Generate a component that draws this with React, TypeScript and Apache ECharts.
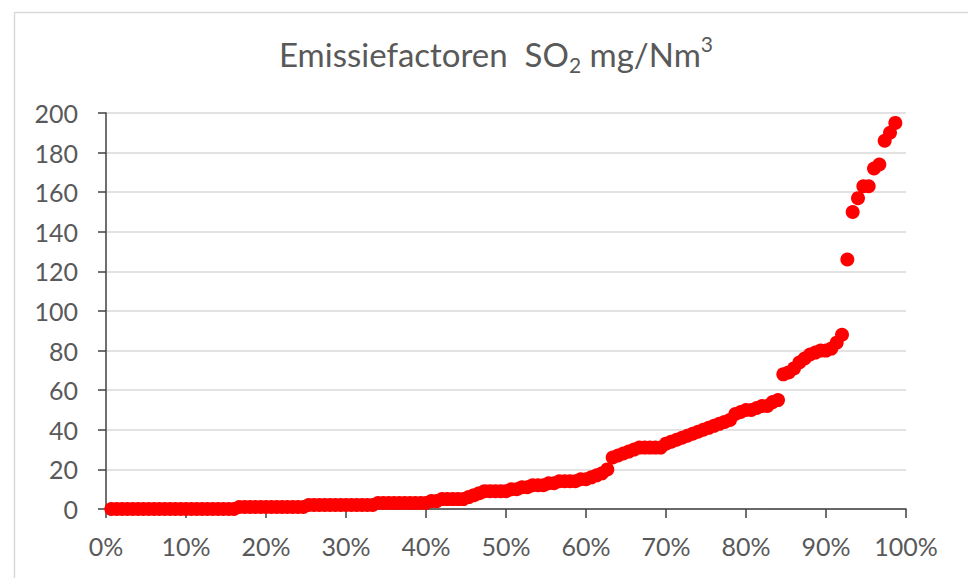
import React, { useEffect, useRef } from "react";
import * as echarts from "echarts";

// Sorted SO2 emission factors (mg/Nm3), one per installation
const so2Values: number[] = [
  0, 0, 0, 0, 0, 0, 0, 0, 0, 0, 0, 0, 0, 0, 0, 0, 0, 0, 0, 0, 0, 0, 0, 0,
  1, 1, 1, 1, 1, 1, 1, 1, 1, 1, 1, 1, 1,
  2, 2, 2, 2, 2, 2, 2, 2, 2, 2, 2, 2, 2,
  3, 3, 3, 3, 3, 3, 3, 3, 3, 3,
  4, 4, 5, 5, 5, 5, 5,
  6, 7, 8,
  9, 9, 9, 9, 9,
  10, 10, 11, 11,
  12, 12, 12, 13,
  13, 14, 14, 14, 14, 15, 15,
  16, 17, 18,
  20, 26,
  27, 28, 29, 30,
  31, 31, 31, 31, 31,
  33,
  34, 35, 36, 37, 38, 39,
  40, 41, 42, 43,
  44, 45,
  48,
  49, 50, 50, 51, 52, 52,
  54, 55,
  68,
  69, 71, 74,
  76, 78, 79, 80,
  80, 81,
  84, 88,
  126, 150, 157, 163, 163, 172, 174, 186, 190, 195,
];
const totalCount = 150; // population size used for the cumulative share

const yTicks = { min: 0, max: 200, interval: 20 };
const xTicks = { min: 0, max: 100, interval: 10 };

const points: [number, number][] = so2Values.map((v, i) => [
  ((i + 1) / totalCount) * 100,
  v,
]);

export default function App() {
  const ref = useRef<HTMLDivElement>(null);
  useEffect(() => {
    if (!ref.current) return;
    const chart = echarts.init(ref.current, undefined, { renderer: "svg" });
    const font = "Lato, 'Open Sans', sans-serif";
    chart.setOption({
      animation: false,
      backgroundColor: "#ffffff",
      graphic: [
        {
          type: "rect",
          left: 12,
          top: 10,
          shape: { width: 970, height: 600 },
          style: { fill: "none", stroke: "#d9d9d9", lineWidth: 1.5 },
          silent: true,
        },
      ],
      title: {
        text: "{n|Emissiefactoren  SO}{sub|2}{n| mg/Nm}{sup|3}",
        left: 491,
        textAlign: "center",
        top: 28,
        textStyle: {
          fontWeight: "normal",
          rich: {
            n: {
              fontFamily: font,
              fontSize: 33,
              fontWeight: "normal",
              color: "#595959",
              lineHeight: 42,
            },
            sub: {
              fontFamily: font,
              fontSize: 21,
              fontWeight: "normal",
              color: "#595959",
              lineHeight: 20,
              verticalAlign: "bottom",
            },
            sup: {
              fontFamily: font,
              fontSize: 21,
              fontWeight: "normal",
              color: "#595959",
              lineHeight: 26,
              verticalAlign: "top",
            },
          },
        },
      },
      grid: { left: 106, right: 62, top: 113, bottom: 69 },
      xAxis: {
        type: "value",
        min: xTicks.min,
        max: xTicks.max,
        interval: xTicks.interval,
        axisLine: { show: true, lineStyle: { color: "#404040", width: 1.5 } },
        axisTick: { show: true, length: 9, lineStyle: { color: "#404040", width: 1.5 } },
        splitLine: { show: false },
        axisLabel: {
          formatter: "{value}%",
          color: "#595959",
          fontFamily: font,
          fontSize: 25,
          margin: 24,
        },
      },
      yAxis: {
        type: "value",
        min: yTicks.min,
        max: yTicks.max,
        interval: yTicks.interval,
        axisLine: { show: true, lineStyle: { color: "#404040", width: 1.5 } },
        axisTick: { show: true, length: 8, lineStyle: { color: "#404040", width: 1.5 } },
        splitLine: { show: true, lineStyle: { color: "#d9d9d9", width: 1.5 } },
        axisLabel: {
          color: "#595959",
          fontFamily: font,
          fontSize: 25,
          margin: 28,
        },
      },
      series: [
        {
          type: "scatter",
          data: points,
          symbol: "circle",
          symbolSize: 14,
          itemStyle: { color: "#ff0000", opacity: 1 },
          z: 3,
        },
      ],
    });
    return () => chart.dispose();
  }, []);
  return (
    <div
      ref={ref}
      style={{ position: "absolute", left: 0, top: 0, width: 968, height: 578 }}
    />
  );
}
